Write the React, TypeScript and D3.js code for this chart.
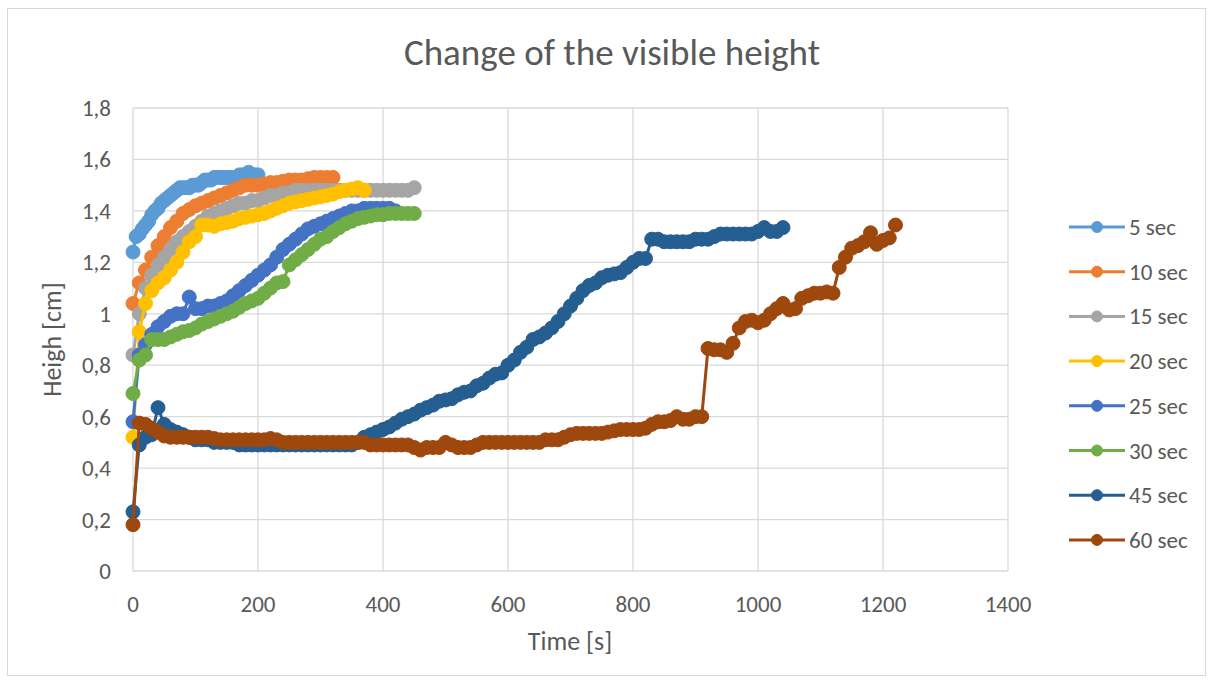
import React from "react";
import * as d3 from "d3";

// ---- data ----
const seriesNames = ["5 sec", "10 sec", "15 sec", "20 sec", "25 sec", "30 sec", "45 sec", "60 sec"];
const seriesColors = ["#5B9BD5", "#ED7D31", "#A5A5A5", "#FFC000", "#4472C4", "#70AD47", "#255E91", "#9E480E"];
const sampleStep = [5, 10, 10, 10, 10, 10, 10, 10]; // seconds between samples

const sec5 = [1.24, 1.30, 1.31, 1.33, 1.345, 1.36, 1.385, 1.40, 1.41, 1.43, 1.44, 1.45, 1.46, 1.47, 1.48, 1.49, 1.49, 1.49, 1.49, 1.50,
  1.50, 1.50, 1.51, 1.52, 1.52, 1.52, 1.53, 1.53, 1.53, 1.53, 1.53, 1.53, 1.53, 1.53, 1.54, 1.54, 1.54, 1.55, 1.54, 1.54, 1.54];
const sec10 = [1.04, 1.12, 1.17, 1.22, 1.265, 1.30, 1.335, 1.36, 1.39, 1.405, 1.42, 1.43, 1.44, 1.45, 1.46, 1.47, 1.48, 1.49, 1.50, 1.50,
  1.50, 1.505, 1.51, 1.51, 1.515, 1.52, 1.52, 1.52, 1.525, 1.53, 1.53, 1.53, 1.53];
const sec15 = [0.84, 1.00, 1.10, 1.15, 1.19, 1.22, 1.25, 1.28, 1.30, 1.32, 1.34, 1.36, 1.38, 1.39, 1.40, 1.41, 1.42, 1.43, 1.43, 1.44,
  1.44, 1.45, 1.46, 1.46, 1.47, 1.47, 1.48, 1.48, 1.48, 1.48, 1.48, 1.48, 1.48, 1.48, 1.48, 1.48, 1.48, 1.48, 1.48, 1.48,
  1.48, 1.48, 1.48, 1.48, 1.48, 1.49];
const sec20 = [0.52, 0.93, 1.04, 1.09, 1.12, 1.14, 1.17, 1.20, 1.24, 1.28, 1.30, 1.345, 1.345, 1.34, 1.35, 1.355, 1.36, 1.37, 1.375, 1.38,
  1.385, 1.39, 1.40, 1.41, 1.42, 1.43, 1.435, 1.44, 1.445, 1.45, 1.455, 1.46, 1.465, 1.475, 1.48, 1.485, 1.49, 1.48];
const sec25 = [0.58, 0.84, 0.88, 0.92, 0.95, 0.97, 0.99, 1.00, 1.00, 1.065, 1.02, 1.02, 1.03, 1.03, 1.04, 1.05, 1.07, 1.09, 1.11, 1.13,
  1.15, 1.17, 1.19, 1.22, 1.25, 1.27, 1.29, 1.31, 1.33, 1.34, 1.35, 1.36, 1.37, 1.38, 1.39, 1.40, 1.40, 1.41, 1.41, 1.41,
  1.41, 1.41, 1.40];
const sec30 = [0.69, 0.82, 0.84, 0.90, 0.90, 0.90, 0.91, 0.92, 0.93, 0.935, 0.945, 0.96, 0.97, 0.98, 0.99, 1.00, 1.01, 1.025, 1.04, 1.05,
  1.06, 1.08, 1.10, 1.12, 1.125, 1.19, 1.21, 1.23, 1.25, 1.27, 1.29, 1.30, 1.32, 1.335, 1.35, 1.36, 1.37, 1.375, 1.38, 1.385,
  1.385, 1.39, 1.39, 1.39, 1.39, 1.39];
const sec45 = [0.23, 0.49, 0.52, 0.53, 0.635, 0.57, 0.55, 0.54, 0.53, 0.52,
  0.51, 0.51, 0.51, 0.50, 0.50, 0.50, 0.50, 0.49, 0.49, 0.49,
  0.49, 0.49, 0.49, 0.49, 0.49, 0.49, 0.49, 0.49, 0.49, 0.49,
  0.49, 0.49, 0.49, 0.49, 0.49, 0.49, 0.50, 0.52, 0.53, 0.54,
  0.55, 0.56, 0.575, 0.59, 0.60, 0.61, 0.625, 0.635, 0.645, 0.66,
  0.665, 0.67, 0.685, 0.695, 0.70, 0.72, 0.73, 0.75, 0.765, 0.77,
  0.80, 0.82, 0.85, 0.87, 0.90, 0.91, 0.925, 0.945, 0.97, 1.00,
  1.03, 1.06, 1.09, 1.11, 1.12, 1.14, 1.15, 1.155, 1.16, 1.18,
  1.20, 1.215, 1.215, 1.29, 1.29, 1.28, 1.28, 1.28, 1.28, 1.28,
  1.29, 1.29, 1.29, 1.30, 1.31, 1.31, 1.31, 1.31, 1.31, 1.31,
  1.32, 1.335, 1.32, 1.32, 1.335];
const sec60 = [0.18, 0.575, 0.57, 0.555, 0.54, 0.525, 0.52, 0.52, 0.52, 0.52,
  0.52, 0.52, 0.52, 0.515, 0.51, 0.51, 0.51, 0.51, 0.51, 0.51,
  0.51, 0.51, 0.515, 0.51, 0.50, 0.50, 0.50, 0.50, 0.50, 0.50,
  0.50, 0.50, 0.50, 0.50, 0.50, 0.50, 0.50, 0.50, 0.49, 0.49,
  0.49, 0.49, 0.49, 0.49, 0.49, 0.48, 0.47, 0.48, 0.48, 0.48,
  0.50, 0.49, 0.48, 0.48, 0.48, 0.49, 0.50, 0.50, 0.50, 0.50,
  0.50, 0.50, 0.50, 0.50, 0.50, 0.50, 0.51, 0.51, 0.51, 0.52,
  0.53, 0.535, 0.535, 0.535, 0.535, 0.535, 0.54, 0.545, 0.55, 0.55,
  0.55, 0.55, 0.555, 0.57, 0.58, 0.58, 0.585, 0.60, 0.59, 0.59,
  0.60, 0.60, 0.865, 0.86, 0.86, 0.85, 0.885, 0.945, 0.97, 0.975,
  0.965, 0.975, 1.00, 1.02, 1.04, 1.015, 1.02, 1.06, 1.07, 1.08,
  1.08, 1.085, 1.08, 1.18, 1.22, 1.255, 1.265, 1.28, 1.315, 1.27,
  1.285, 1.295, 1.345];

const seriesValues = [sec5, sec10, sec15, sec20, sec25, sec30, sec45, sec60];

const xTicks = [0, 200, 400, 600, 800, 1000, 1200, 1400];
const yTicks = [0, 0.2, 0.4, 0.6, 0.8, 1, 1.2, 1.4, 1.6, 1.8];

const chartTitle = "Change of the visible height";
const xTitle = "Time [s]";
const yTitle = "Heigh [cm]";

// ---- layout ----
const W = 1213;
const H = 684;
const plot = { left: 133, right: 1008, top: 108, bottom: 571 };
const FONT = "Calibri, Carlito, Lato, 'Open Sans', sans-serif";
const TEXT = "#595959";
const GRID = "#D9D9D9";

export default function App() {
  const x = d3.scaleLinear().domain([0, 1400]).range([plot.left, plot.right]);
  const y = d3.scaleLinear().domain([0, 1.8]).range([plot.bottom, plot.top]);
  const fmt = (v: number) => d3.format("~g")(v).replace(".", ",");

  const series = seriesNames.map((name, i) => ({
    name,
    color: seriesColors[i],
    points: seriesValues[i].map((v, j) => [j * sampleStep[i], v] as [number, number]),
  }));

  const line = d3
    .line<[number, number]>()
    .x((d) => x(d[0]))
    .y((d) => y(d[1]));

  const legendX = 1069;
  const legendY0 = 227;
  const legendDy = 44.7;

  return (
    <svg
      width={W}
      height={H}
      style={{ position: "absolute", left: 0, top: 0, background: "#fff" }}
      fontFamily={FONT}
    >
      <rect x={0} y={0} width={W} height={H} fill="#fff" />
      <rect x={7.5} y={8.5} width={1198} height={667} fill="#fff" stroke={GRID} strokeWidth={1} />

      {/* gridlines */}
      {yTicks.map((t) => (
        <line key={"gy" + t} x1={plot.left} x2={plot.right} y1={y(t)} y2={y(t)} stroke={GRID} strokeWidth={1.3} />
      ))}
      {xTicks.map((t) => (
        <line key={"gx" + t} x1={x(t)} x2={x(t)} y1={plot.top} y2={plot.bottom} stroke={GRID} strokeWidth={1.3} />
      ))}

      {/* tick labels */}
      {yTicks.map((t) => (
        <text key={"ty" + t} x={111} y={y(t)} dy="0.35em" textAnchor="end" fontSize={23} fill={TEXT}>
          {fmt(t)}
        </text>
      ))}
      {xTicks.map((t) => (
        <text key={"tx" + t} x={x(t)} y={604} dy="0.35em" textAnchor="middle" fontSize={23} fill={TEXT}>
          {fmt(t)}
        </text>
      ))}

      {/* series */}
      {series.map((s) => (
        <g key={s.name}>
          <path d={line(s.points) || ""} fill="none" stroke={s.color} strokeWidth={3} strokeLinejoin="round" />
          {s.points.map((p, j) => (
            <circle key={j} cx={x(p[0])} cy={y(p[1])} r={7} fill={s.color} stroke={s.color} strokeWidth={1} />
          ))}
        </g>
      ))}

      {/* titles */}
      <text x={612} y={52} dy="0.35em" textAnchor="middle" fontSize={37} fill={TEXT}>
        {chartTitle}
      </text>
      <text x={570} y={641} dy="0.35em" textAnchor="middle" fontSize={26} fill={TEXT}>
        {xTitle}
      </text>
      <text
        transform={`translate(52, ${(plot.top + plot.bottom) / 2}) rotate(-90)`}
        dy="0.35em"
        textAnchor="middle"
        fontSize={26}
        fill={TEXT}
      >
        {yTitle}
      </text>

      {/* legend */}
      {series.map((s, i) => {
        const ly = legendY0 + i * legendDy;
        return (
          <g key={"lg" + s.name}>
            <line x1={legendX} x2={legendX + 56} y1={ly} y2={ly} stroke={s.color} strokeWidth={3} />
            <circle cx={legendX + 28} cy={ly} r={5.5} fill={s.color} stroke={s.color} strokeWidth={1} />
            <text x={legendX + 60} y={ly} dy="0.35em" fontSize={23} fill={TEXT}>
              {s.name}
            </text>
          </g>
        );
      })}
    </svg>
  );
}
